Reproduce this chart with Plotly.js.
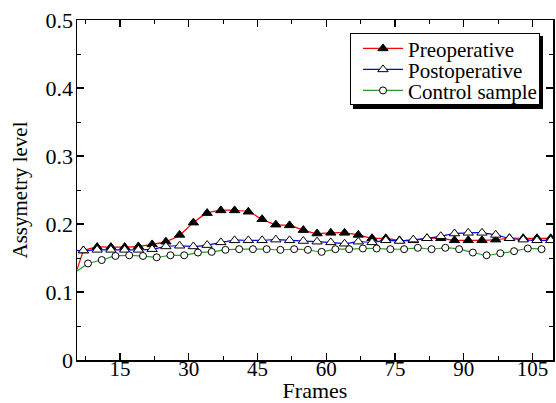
<!DOCTYPE html>
<html>
<head>
<meta charset="utf-8">
<script src="https://cdn.plot.ly/plotly-3.0.1.min.js"></script>
<style>html,body{margin:0;padding:0;background:#fff;}#chart{width:556px;height:403px;}</style>
</head>
<body>
<div id="chart"></div>
<script>
// Frames at which markers are drawn
var framesPre = [7,10,13,16,19,22,25,28,31,34,37,40,43,46,49,52,55,58,61,64,67,70,73,76,79,82,85,88,91,94,97,100,103,106,109];
var framesPost = framesPre;
var framesCtrl = [8,11,14,17,20,23,26,29,32,35,38,41,44,47,50,53,56,59,62,65,68,71,74,77,80,83,86,89,92,95,98,101,104,107];

var preoperative = [0.161,0.166,0.166,0.166,0.167,0.170,0.174,0.184,0.202,0.216,0.220,0.220,0.218,0.207,0.199,0.198,0.191,0.186,0.187,0.187,0.184,0.179,0.179,0.176,0.176,0.179,0.179,0.176,0.176,0.176,0.177,0.179,0.179,0.179,0.179];
var postoperative = [0.161,0.162,0.162,0.162,0.162,0.163,0.167,0.168,0.167,0.169,0.173,0.176,0.176,0.176,0.177,0.176,0.175,0.174,0.173,0.171,0.174,0.173,0.176,0.175,0.177,0.179,0.182,0.186,0.187,0.187,0.184,0.179,0.177,0.176,0.176];
var control = [0.142,0.147,0.153,0.154,0.153,0.151,0.154,0.154,0.158,0.159,0.162,0.163,0.163,0.163,0.162,0.163,0.162,0.159,0.163,0.163,0.164,0.164,0.163,0.163,0.165,0.163,0.165,0.163,0.158,0.154,0.157,0.160,0.164,0.163];

// Line values at the first frame (left edge), before the first marker
var startFrame = 5.6;
var startPre = 0.133, startPost = 0.161, startCtrl = 0.131;

var seriesNames = ['Preoperative','Postoperative','Control sample'];
var xTicks = [15,30,45,60,75,90,105];

var FONT = 'Liberation Serif';
var colors = ['#ff0000','#0000ff','#2a992a'];

function mainTrace(x, y, name, color, symbol, fill, size) {
  return {
    x: x, y: y, name: name, type: 'scatter', mode: 'lines+markers',
    line: {color: color, width: 1.2, shape: 'spline', smoothing: 0.8},
    marker: {symbol: symbol, size: size, color: fill, line: {color: '#000', width: 1}}
  };
}
function leadTrace(x0, y0, x1, y1, color) {
  return {x: [x0, x1], y: [y0, y1], type: 'scatter', mode: 'lines', showlegend: false,
          hoverinfo: 'skip', line: {color: color, width: 1.2}};
}

var data = [
  leadTrace(startFrame, startPre, framesPre[0], preoperative[0], colors[0]),
  leadTrace(startFrame, startPost, framesPost[0], postoperative[0], colors[1]),
  leadTrace(startFrame, startCtrl, framesCtrl[0], control[0], colors[2]),
  mainTrace(framesPre, preoperative, seriesNames[0], colors[0], 'triangle-up', '#000', 9),
  mainTrace(framesPost, postoperative, seriesNames[1], colors[1], 'triangle-up', '#fff', 9),
  mainTrace(framesCtrl, control, seriesNames[2], colors[2], 'circle', '#fff', 7)
];

var layout = {
  width: 556, height: 403,
  margin: {l: 77, r: 3, t: 20, b: 43},
  paper_bgcolor: '#fff', plot_bgcolor: '#fff',
  font: {family: FONT, size: 21, color: '#000'},
  showlegend: true,
  legend: {
    x: 0.979, y: 0.962, xanchor: 'right', yanchor: 'top',
    bgcolor: '#fff', bordercolor: '#000', borderwidth: 1,
    font: {family: FONT, size: 21, color: '#000'},
    itemwidth: 40, tracegroupgap: 0
  },
  xaxis: {
    range: [5.6, 109.5], tickvals: xTicks, ticktext: xTicks.map(String),
    ticks: 'inside', ticklen: 7, tickwidth: 1.2, tickcolor: '#000',
    minor: {dtick: 7.5, tick0: 0, ticks: 'inside', ticklen: 4, tickcolor: '#000', tickwidth: 1},
    showline: true, linecolor: '#000', linewidth: 1.5, mirror: 'ticks',
    showgrid: false, zeroline: false, ticklabelstandoff: -11,
    tickfont: {family: FONT, size: 21, color: '#000'},
    title: {text: 'Frames', font: {family: FONT, size: 22, color: '#000'}, standoff: 6}
  },
  yaxis: {
    range: [0, 0.5], dtick: 0.1, tick0: 0,
    ticks: 'inside', ticklen: 7, tickwidth: 1.2, tickcolor: '#000',
    minor: {dtick: 0.05, tick0: 0, ticks: 'inside', ticklen: 4, tickcolor: '#000', tickwidth: 1},
    showline: true, linecolor: '#000', linewidth: 1.5, mirror: 'ticks',
    showgrid: false, zeroline: false, ticklabelstandoff: -2,
    tickfont: {family: FONT, size: 22, color: '#000'},
    title: {text: 'Assymetry level', font: {family: FONT, size: 21, color: '#000'}, standoff: 12}
  }
};

Plotly.newPlot('chart', data, layout, {displayModeBar: false, staticPlot: true}).then(function (gd) {
  // tighten legend row spacing to match the compact legend of the reference
  var leg = gd.querySelector('g.legend');
  if (!leg) return;
  var items = leg.querySelectorAll('g.traces');
  if (items.length < 2) return;
  var xs = [], ys = [];
  items.forEach(function (t) {
    var m = /translate\(\s*([-\d.e]+)[ ,]+([-\d.e]+)\s*\)/.exec(t.getAttribute('transform') || '');
    xs.push(m ? +m[1] : 0); ys.push(m ? +m[2] : 0);
  });
  var step = 21;
  var shrink = (ys[1] - ys[0]) - step;
  if (shrink <= 0) return;
  items.forEach(function (t, i) {
    t.setAttribute('transform', 'translate(' + xs[i] + ',' + (ys[0] - shrink / 2 - 1 + i * step) + ')');
  });
  var bg = leg.querySelector('rect.bg');
  if (bg) {
    var h = +bg.getAttribute('height');
    var w = +bg.getAttribute('width');
    var bx = +bg.getAttribute('x') || 0;
    var by = +bg.getAttribute('y') || 0;
    bg.setAttribute('height', h - shrink * items.length - 3);
    bg.setAttribute('x', bx - 7);
    bg.setAttribute('width', w + 4);
    // drop shadow behind the legend box
    var sh = bg.cloneNode(false);
    sh.setAttribute('class', 'shadow');
    sh.setAttribute('x', bx - 7 + 3);
    sh.setAttribute('y', by + 3.5);
    sh.style.fill = '#000'; sh.style.stroke = '#000';
    bg.parentNode.insertBefore(sh, bg);
  }
});
</script>
</body>
</html>
